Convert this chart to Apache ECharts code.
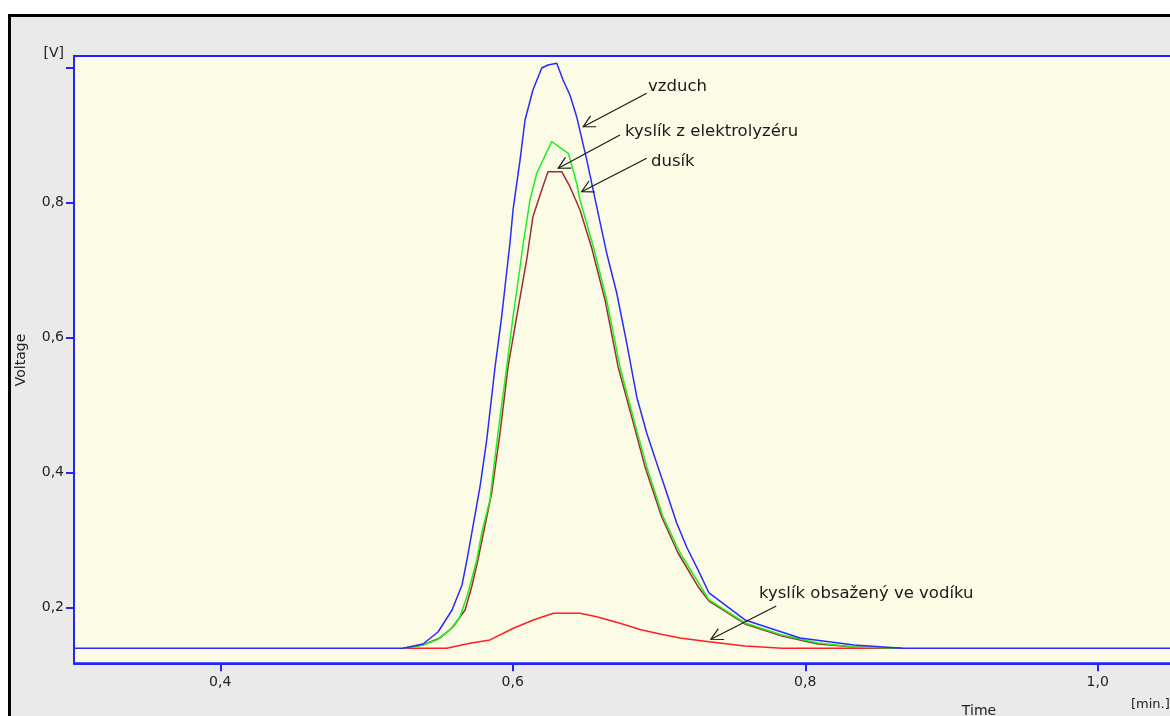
<!DOCTYPE html>
<html>
<head>
<meta charset="utf-8">
<script src="https://cdn.jsdelivr.net/npm/echarts@6/dist/echarts.min.js"></script>
<style>
html,body{margin:0;padding:0;background:#fff;overflow:hidden;width:1170px;height:716px;}
#frame{position:absolute;left:8px;top:14px;width:1300px;height:900px;border:3px solid #000;background:#eaeaea;box-sizing:border-box;}
#chart{position:absolute;left:0;top:0;width:1300px;height:716px;}
</style>
</head>
<body>
<div id="frame"></div>
<div id="chart"></div>
<script>
// ---- data (time in min, voltage in V) ----
const timeVzduch = [0.30, 0.525, 0.5386, 0.5489, 0.5585, 0.5653, 0.5687, 0.5776, 0.5822, 0.5879, 0.5924, 0.5947, 0.5981, 0.6002, 0.6050, 0.6084, 0.6138, 0.6198, 0.6241, 0.6301, 0.6344, 0.6391, 0.6437, 0.6506, 0.6574, 0.6642, 0.6711, 0.6779, 0.6848, 0.6916, 0.6984, 0.7053, 0.7121, 0.7189, 0.7267, 0.7342, 0.7588, 0.7964, 0.8333, 0.8662, 1.10];
const voltVzduch = [0.1393, 0.1393, 0.1456, 0.1634, 0.1960, 0.2330, 0.2701, 0.3782, 0.4479, 0.5560, 0.6301, 0.6745, 0.7397, 0.7886, 0.8627, 0.9219, 0.9664, 0.9990, 1.0034, 1.0059, 0.9812, 0.9590, 0.9268, 0.8627, 0.7935, 0.7249, 0.6656, 0.5916, 0.5116, 0.4582, 0.4138, 0.3693, 0.3249, 0.2893, 0.2553, 0.2212, 0.1812, 0.1545, 0.1441, 0.1393, 0.1393];

const timeElektrolyzer = [0.525, 0.5386, 0.5480, 0.5571, 0.5639, 0.5694, 0.5754, 0.5788, 0.5844, 0.5899, 0.5959, 0.6002, 0.6050, 0.6070, 0.6118, 0.6164, 0.6266, 0.6380, 0.6437, 0.6460, 0.6551, 0.6642, 0.6733, 0.6822, 0.6916, 0.7027, 0.7144, 0.7258, 0.7342, 0.7588, 0.7841, 0.8087, 0.8333, 0.8662];
const voltElektrolyzer = [0.1393, 0.1441, 0.1516, 0.1664, 0.1856, 0.2212, 0.2701, 0.3101, 0.3590, 0.4582, 0.5564, 0.6305, 0.7041, 0.7367, 0.8034, 0.8430, 0.8898, 0.8726, 0.8281, 0.8034, 0.7342, 0.6553, 0.5564, 0.4824, 0.4083, 0.3342, 0.2804, 0.2404, 0.2108, 0.1767, 0.1590, 0.1471, 0.1412, 0.1393];

const timeDusik = [0.525, 0.5386, 0.5503, 0.5591, 0.5674, 0.5719, 0.5762, 0.5856, 0.5913, 0.5968, 0.6027, 0.6095, 0.6138, 0.6198, 0.6241, 0.6335, 0.6391, 0.6460, 0.6540, 0.6631, 0.6720, 0.6813, 0.6904, 0.7018, 0.7130, 0.7267, 0.7342, 0.7588, 0.7841, 0.8087, 0.8333, 0.8662];
const voltDusik = [0.1393, 0.1441, 0.1545, 0.1708, 0.1960, 0.2301, 0.2701, 0.3693, 0.4582, 0.5564, 0.6305, 0.7145, 0.7787, 0.8182, 0.8453, 0.8453, 0.8231, 0.7886, 0.7323, 0.6553, 0.5564, 0.4824, 0.4083, 0.3342, 0.2804, 0.2305, 0.2093, 0.1753, 0.1575, 0.1456, 0.1412, 0.1393];

const timeVodik = [0.525, 0.5548, 0.5708, 0.5844, 0.6004, 0.6141, 0.6277, 0.6460, 0.6574, 0.6733, 0.6870, 0.7007, 0.7144, 0.7342, 0.7588, 0.7841, 0.8662];
const voltVodik = [0.1393, 0.1393, 0.1467, 0.1516, 0.1689, 0.1812, 0.1911, 0.1911, 0.1861, 0.1763, 0.1671, 0.1604, 0.1545, 0.1490, 0.1427, 0.1393, 0.1393];

const xTickValues = [0.4, 0.6, 0.8, 1.0];
const yLabelValues = [0.2, 0.4, 0.6, 0.8];
const yTickValues = [0.2, 0.4, 0.6, 0.8, 1.0];

// annotations: label text, label anchor [t,V], arrow tail [t,V], arrow head [t,V]
const annoLabels = ['vzduch', 'kyslík z elektrolyzéru', 'dusík', 'kyslík obsažený ve vodíku'];
const annoTextPos = [[0.6925, 0.9713], [0.6768, 0.9046], [0.6945, 0.8601], [0.7684, 0.2207]];
const annoTail = [[0.6916, 0.9615], [0.6733, 0.8997], [0.6916, 0.8652], [0.7802, 0.2019]];
const annoHead = [[0.6482, 0.9120], [0.6311, 0.8504], [0.6471, 0.8157], [0.7355, 0.1526]];

const pair = (t, v) => t.map((x, i) => [x, v[i]]);
const FONT = 'DejaVu Sans';
const AXIS_BLUE = '#2323ff';
const fmt = v => v.toFixed(1).replace('.', ',');

const chart = echarts.init(document.getElementById('chart'), null, {renderer: 'canvas'});

function line(name, data, color) {
  return {
    name, type: 'line', data, showSymbol: false, symbol: 'none',
    lineStyle: {color, width: 1.5}, itemStyle: {color},
    clip: true, silent: true
  };
}

chart.setOption({
  animation: false,
  backgroundColor: 'transparent',
  grid: {
    left: 74, top: 56, right: 56, bottom: 52.7,
    show: true, backgroundColor: '#fbfbe6', borderColor: AXIS_BLUE, borderWidth: 2
  },
  xAxis: {
    type: 'value', min: 0.3, max: 1.1,
    axisLine: {show: true, onZero: false, lineStyle: {color: AXIS_BLUE, width: 2}},
    axisTick: {show: true, length: 8, customValues: xTickValues, lineStyle: {color: AXIS_BLUE, width: 2}},
    axisLabel: {customValues: xTickValues, formatter: fmt, margin: 12, color: '#222', fontFamily: FONT, fontSize: 14},
    splitLine: {show: false}
  },
  yAxis: {
    type: 'value', min: 0.1170, max: 1.0167,
    axisLine: {show: true, onZero: false, lineStyle: {color: AXIS_BLUE, width: 2}},
    axisTick: {show: true, length: 8, customValues: yTickValues, lineStyle: {color: AXIS_BLUE, width: 2}},
    axisLabel: {customValues: yLabelValues, formatter: fmt, margin: 10, color: '#222', fontFamily: FONT, fontSize: 14},
    splitLine: {show: false}
  },
  series: [
    line('kyslík obsažený ve vodíku', pair(timeVodik, voltVodik), '#ff2020'),
    line('dusík', pair(timeDusik, voltDusik), '#a02c2c'),
    line('kyslík z elektrolyzéru', pair(timeElektrolyzer, voltElektrolyzer), '#1ef01e'),
    line('vzduch', pair(timeVzduch, voltVzduch), '#2a2aff')
  ]
});

// annotations drawn from data coordinates
const elems = [];
const textStyle = {fill: '#1a1a1a', fontFamily: FONT, fontSize: 16.5};
annoLabels.forEach((lbl, i) => {
  const p = chart.convertToPixel({gridIndex: 0}, annoTextPos[i]);
  const tail = chart.convertToPixel({gridIndex: 0}, annoTail[i]);
  const head = chart.convertToPixel({gridIndex: 0}, annoHead[i]);
  elems.push({type: 'text', x: p[0], y: p[1], style: Object.assign({text: lbl, verticalAlign: 'middle', align: 'left'}, textStyle), z: 100});
  const ang = Math.atan2(tail[1] - head[1], tail[0] - head[0]);
  const L = 13, spread = 28 * Math.PI / 180;
  const a1 = [head[0] + L * Math.cos(ang + spread), head[1] + L * Math.sin(ang + spread)];
  const a2 = [head[0] + L * Math.cos(ang - spread), head[1] + L * Math.sin(ang - spread)];
  elems.push({type: 'polyline', shape: {points: [tail, head]}, style: {stroke: '#1a1a1a', lineWidth: 1.2, fill: null}, z: 100});
  elems.push({type: 'polyline', shape: {points: [a1, head, a2]}, style: {stroke: '#1a1a1a', lineWidth: 1.2, fill: null}, z: 100});
});
// axis captions
elems.push({type: 'text', x: 64, y: 53, style: {text: '[V]', align: 'right', verticalAlign: 'middle', fill: '#222', fontFamily: FONT, fontSize: 14}});
elems.push({type: 'text', x: 21, y: 360, rotation: Math.PI / 2, style: {text: 'Voltage', align: 'center', verticalAlign: 'middle', fill: '#222', fontFamily: FONT, fontSize: 14}});
elems.push({type: 'text', x: 979, y: 711, style: {text: 'Time', align: 'center', verticalAlign: 'middle', fill: '#222', fontFamily: FONT, fontSize: 14}});
elems.push({type: 'text', x: 1131, y: 705, style: {text: '[min.]', align: 'left', verticalAlign: 'middle', fill: '#222', fontFamily: FONT, fontSize: 13}});
chart.setOption({graphic: {elements: elems}});
</script>
</body>
</html>
